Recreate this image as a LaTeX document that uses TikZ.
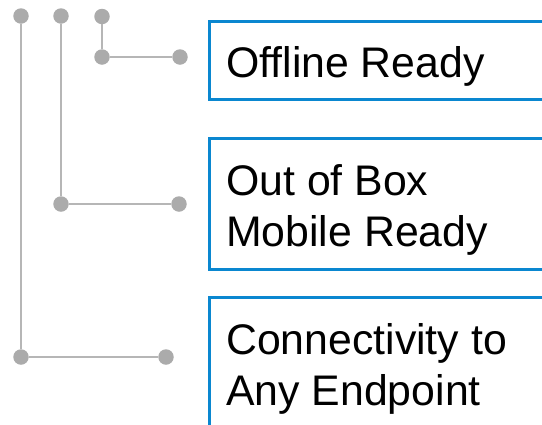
\documentclass[tikz,border=0pt]{standalone}
\usepackage{fontspec}
\setmainfont{Liberation Sans}
\definecolor{boxblue}{HTML}{0A87D0}
\definecolor{dotgray}{HTML}{ABABAB}
\definecolor{linegray}{HTML}{B6B6B6}
\begin{document}
\begin{tikzpicture}[x=1pt,y=-1pt,
  dot/.style={circle,fill=dotgray,draw=none,minimum size=15.5pt,inner sep=0pt},
  conn/.style={draw=linegray,line width=2.2pt},
  featbox/.style={draw=boxblue,line width=3pt,fill=white,anchor=north west,minimum width=400pt,inner sep=0pt},
  label/.style={anchor=base west,inner sep=0pt,align=left,font=\fontsize{42.8}{51.5}\selectfont}]
\useasboundingbox (0,0) rectangle (542,424);
\clip (0,0) rectangle (542,424);
% boxes
\node[featbox,minimum height=78pt] (b1) at (207.5,19.5) {};
\node[featbox,minimum height=131.5pt] (b2) at (207.5,136.5) {};
\node[featbox,minimum height=200pt] (b3) at (207.5,295.5) {};
\node[label] (t1) at (226,77) {Offline Ready};
\node[label] (t2) at (226,246.5) {Out of Box\\Mobile Ready};
\node[label] (t3) at (226,405.5) {Connectivity to\\Any Endpoint};
% dots
\node[dot] (a1) at (21,16) {};
\node[dot] (a2) at (21,357) {};
\node[dot] (a3) at (166,357) {};
\node[dot] (c1) at (61,16) {};
\node[dot] (c2) at (61,204) {};
\node[dot] (c3) at (179,204) {};
\node[dot] (d1) at (102,16.5) {};
\node[dot] (d2) at (102,57) {};
\node[dot] (d3) at (180,57) {};
% connectors
\draw[conn] (a1) -- (a2) -- (a3);
\draw[conn] (c1) -- (c2) -- (c3);
\draw[conn] (d1) -- (d2) -- (d3);
\end{tikzpicture}
\end{document}
